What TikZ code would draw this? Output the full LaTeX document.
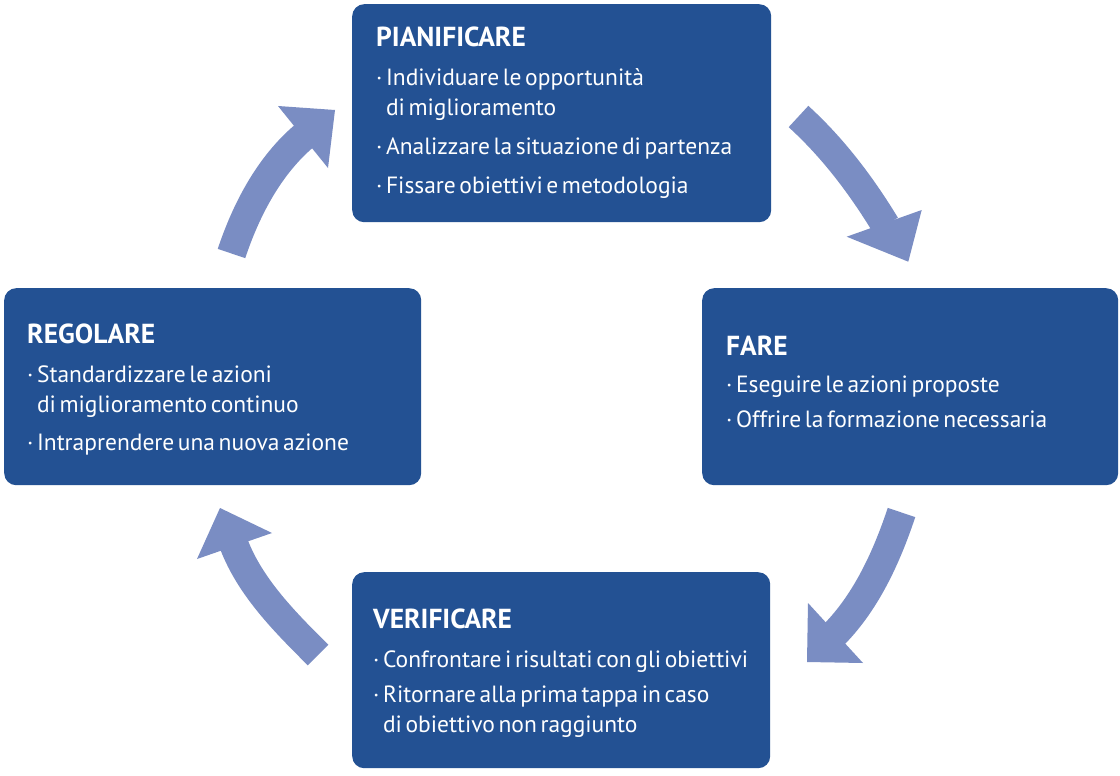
\documentclass[tikz,border=0pt]{standalone}
\usepackage{fontspec}
\setmainfont{PT Sans}
\definecolor{boxblue}{HTML}{235193}
\definecolor{arrowblue}{HTML}{7A8DC3}
\newcommand\boxtitle[1]{{\fontsize{27.5}{30}\selectfont\bfseries #1}}
\newcommand\hang{\hphantom{·\ }}
\newcommand\tightsp{\spaceskip=3.6pt plus 1pt minus 1pt\relax}
\tikzset{
  box/.style={fill=boxblue, rounded corners=12pt, inner sep=0pt, anchor=north west},
  txt/.style={text=white, inner sep=0pt, anchor=base west, text width=600pt, align=left,
              font=\fontsize{23.5}{30}\selectfont},
  shaft/.style={draw=arrowblue, line width=29pt, line cap=butt},
  head/.style={fill=arrowblue}
}
\begin{document}
\begin{tikzpicture}[x=1pt,y=-1pt]
\fill[white] (0,0) rectangle (1120,776);
\useasboundingbox (0,0) rectangle (1120,776);

% boxes
\node[box, minimum width=419pt, minimum height=218pt] (pian) at (352,4) {};
\node[box, minimum width=416pt, minimum height=197pt] (fare) at (702,288) {};
\node[box, minimum width=417pt, minimum height=197pt] (rego) at (4,288) {};
\node[box, minimum width=418pt, minimum height=196pt] (veri) at (352,572) {};

% texts
\node[txt] (tpian) at (376,47) {\tightsp\boxtitle{PIANIFICARE}\\[8.7pt]
·\ Individuare le opportunità\\
\hang di miglioramento\\[9pt]
·\ Analizzare la situazione di partenza\\[9pt]
·\ Fissare obiettivi e metodologia};

\node[txt] (tfare) at (726,355) {\tightsp\boxtitle{FARE}\\[7pt]
·\ Eseguire le azioni proposte\\[5.5pt]
·\ Offrire la formazione necessaria};

\node[txt] (trego) at (27,343) {\tightsp\boxtitle{REGOLARE}\\[9pt]
·\ Standardizzare le azioni\\
\hang di miglioramento continuo\\[8pt]
·\ Intraprendere una nuova azione};

\node[txt] (tveri) at (373,628) {\tightsp\boxtitle{VERIFICARE}\\[9pt]
·\ Confrontare i risultati con gli obiettivi\\[5pt]
·\ Ritornare alla prima tappa in caso\\
\hang di obiettivo non raggiunto};

% arrow 1: PIANIFICARE -> FARE
\coordinate (a1s) at (798.5,116.5);
\coordinate (a1e) at (885.5,225.2);
\draw[shaft] (a1s) .. controls (832.5,147.5) and (860.5,184.2) .. (a1e);
\fill[head] (846.7,236.7) -- (908.3,261.7) -- (921.7,210) -- cycle;

% arrow 2: REGOLARE -> PIANIFICARE
\coordinate (a2s) at (231.5,253.5);
\coordinate (a2e) at (304.5,135.7);
\draw[shaft] (a2s) .. controls (245.7,210.8) and (268.6,166) .. (a2e);
\fill[head] (278,106) -- (335,110) -- (328,168) -- cycle;

% arrow 3: FARE -> VERIFICARE
\coordinate (a3s) at (901.5,512.5);
\coordinate (a3e) at (834.1,634.4);
\draw[shaft] (a3s) .. controls (887.3,555.2) and (867,600.9) .. (a3e);
\fill[head] (808,603) -- (807,662) -- (863,663) -- cycle;

% arrow 4: VERIFICARE -> REGOLARE
\coordinate (a4s) at (318,655);
\coordinate (a4e) at (233.8,544.1);
\draw[shaft] (a4s) .. controls (286.2,623.2) and (250.5,588) .. (a4e);
\fill[head] (272,533) -- (220,508) -- (197,559) -- cycle;
\end{tikzpicture}
\end{document}
